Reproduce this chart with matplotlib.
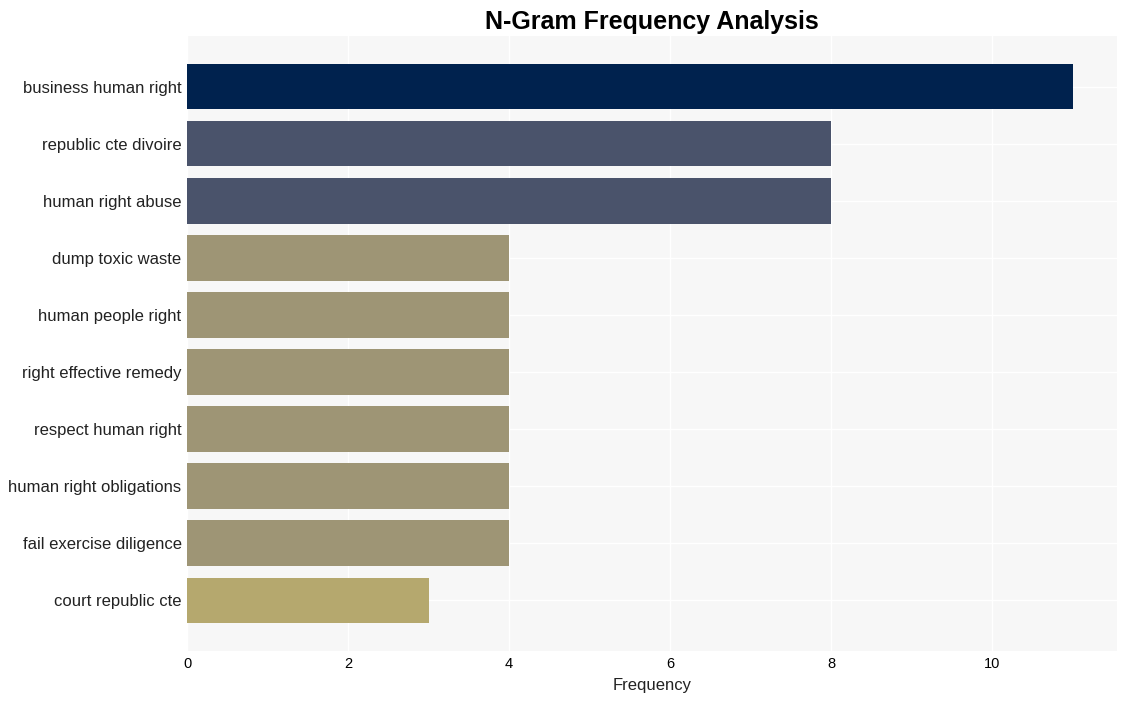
import matplotlib.pyplot as plt

plt.rcParams['font.family'] = ['Liberation Sans', 'DejaVu Sans']

ngrams = ['business human right', 'republic cte divoire', 'human right abuse',
          'dump toxic waste', 'human people right', 'right effective remedy',
          'respect human right', 'human right obligations', 'fail exercise diligence',
          'court republic cte']
counts = [11, 8, 8, 4, 4, 4, 4, 4, 4, 3]
colors = ['#00224e', '#4a536b', '#4a536b', '#9e9575', '#9e9575', '#9e9575',
          '#9e9575', '#9e9575', '#9e9575', '#b5a86e']

fig, ax = plt.subplots(figsize=(11.27, 7.01), dpi=100)
fig.subplots_adjust(left=0.166, right=0.991, top=0.949, bottom=0.071)

ax.set_facecolor('#f7f7f7')
ax.barh(range(len(ngrams)), counts, height=0.8, color=colors, zorder=2)
ax.set_yticks(range(len(ngrams)))
ax.set_yticklabels(ngrams, fontsize=12, color='#222222')
ax.invert_yaxis()
ax.set_xlim(0, 11.55)
ax.grid(True, color='white', lw=1, zorder=0)
ax.set_axisbelow(True)
for s in ax.spines.values():
    s.set_visible(False)
ax.tick_params(axis='both', length=0)
ax.tick_params(axis='x', labelsize=10.5, pad=4)
ax.tick_params(axis='y', pad=4)
ax.set_xlabel('Frequency', fontsize=12, color='#222222', labelpad=5)
ax.set_title('N-Gram Frequency Analysis', fontsize=18, fontweight='bold', pad=5)

fig.savefig('out.png')
